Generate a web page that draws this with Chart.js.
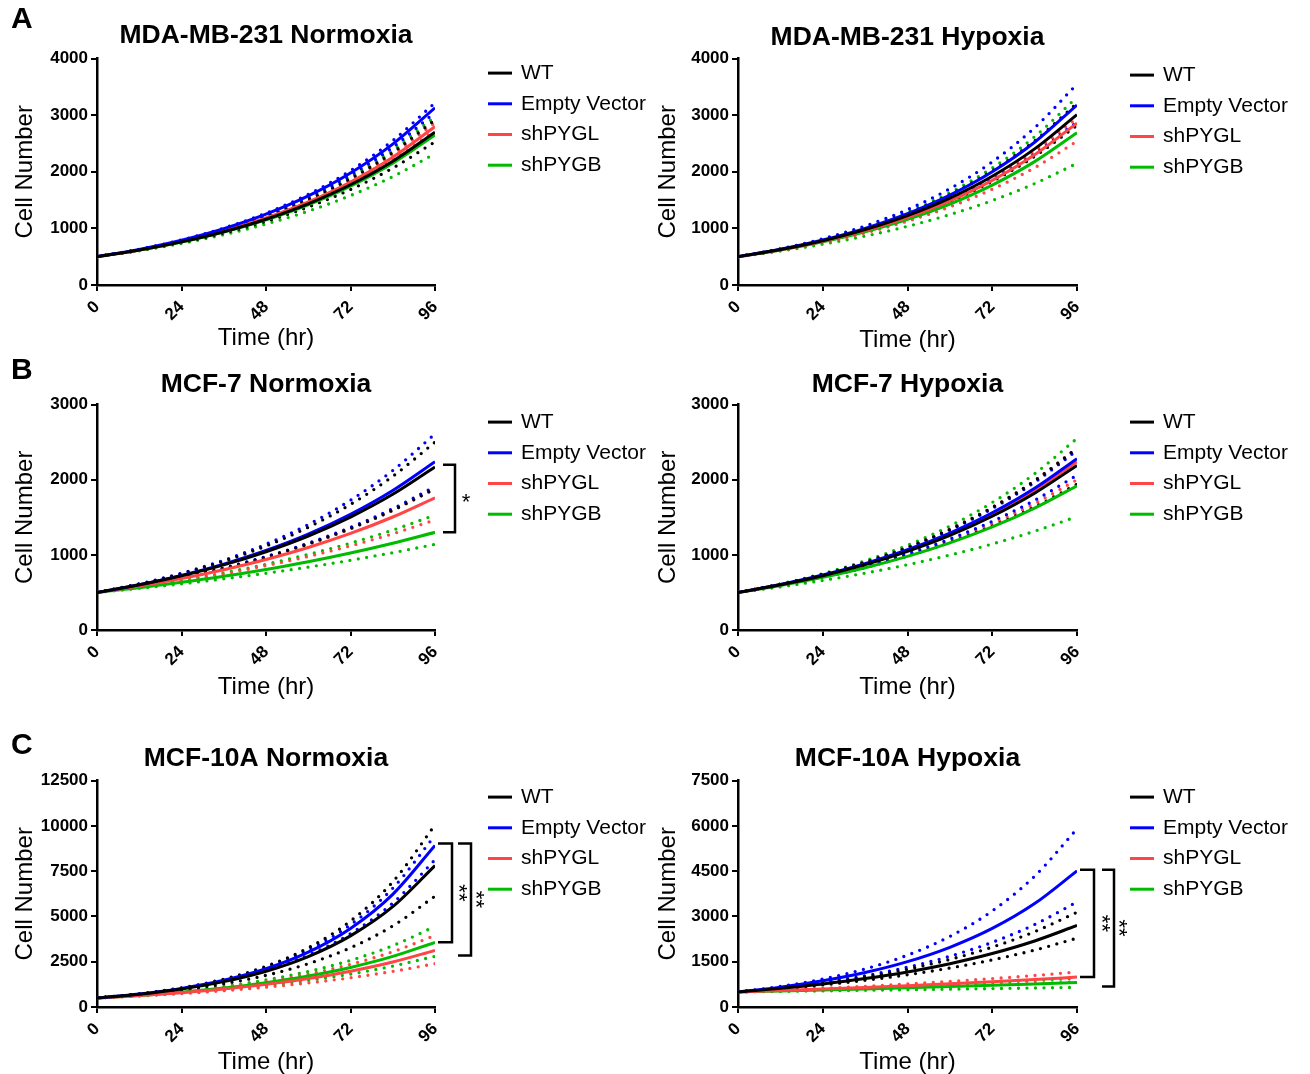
<!DOCTYPE html>
<html>
<head>
<meta charset="utf-8">
<title>Cell growth curves</title>
<script src="https://cdn.jsdelivr.net/npm/chart.js@4.4.0/dist/chart.umd.min.js"></script>
<style>
  html, body { margin: 0; padding: 0; background: #fff; overflow: hidden; }
  #page { position: relative; width: 1310px; height: 1074px; }
  canvas { position: absolute; }
</style>
</head>
<body>
<div id="page"></div>
<script>
const hours = [0, 12, 24, 36, 48, 60, 72, 84, 96];
const groups = ['WT', 'Empty Vector', 'shPYGL', 'shPYGB'];
const colors = ['#000000', '#0000ff', '#ff4545', '#00bb00'];

// MDA-MB-231 Normoxia (fit, upper, lower)
const mdaN_WT = [500, 617, 762, 941, 1162, 1435, 1771, 2187, 2700];
const mdaN_WT_hi = [500, 623, 777, 969, 1208, 1506, 1878, 2342, 2920];
const mdaN_WT_lo = [500, 612, 750, 919, 1125, 1378, 1687, 2066, 2530];
const mdaN_EV = [500, 629, 791, 995, 1251, 1573, 1979, 2489, 3130];
const mdaN_EV_hi = [500, 631, 797, 1006, 1269, 1601, 2021, 2551, 3220];
const mdaN_EV_lo = [500, 627, 786, 985, 1235, 1548, 1941, 2433, 3050];
const mdaN_PYGL = [500, 620, 769, 954, 1183, 1467, 1820, 2257, 2800];
const mdaN_PYGL_hi = [500, 622, 774, 963, 1198, 1490, 1854, 2307, 2870];
const mdaN_PYGL_lo = [500, 618, 764, 945, 1168, 1444, 1786, 2208, 2730];
const mdaN_PYGB = [500, 616, 759, 935, 1151, 1418, 1747, 2152, 2650];
const mdaN_PYGB_hi = [500, 625, 781, 977, 1221, 1526, 1907, 2384, 2980];
const mdaN_PYGB_lo = [500, 606, 734, 889, 1077, 1305, 1581, 1915, 2320];

// MDA-MB-231 Hypoxia
const mdaH_WT = [500, 626, 783, 980, 1227, 1536, 1922, 2405, 3010];
const mdaH_WT_hi = [500, 631, 796, 1004, 1267, 1599, 2017, 2545, 3210];
const mdaH_WT_lo = [500, 621, 771, 957, 1187, 1474, 1830, 2272, 2820];
const mdaH_EV = [500, 630, 794, 1001, 1261, 1589, 2002, 2523, 3180];
const mdaH_EV_hi = [500, 639, 816, 1043, 1332, 1702, 2175, 2779, 3550];
const mdaH_EV_lo = [500, 623, 775, 964, 1200, 1494, 1859, 2314, 2880];
const mdaH_PYGL = [500, 622, 773, 962, 1196, 1487, 1849, 2300, 2860];
const mdaH_PYGL_hi = [500, 624, 779, 973, 1215, 1517, 1893, 2363, 2950];
const mdaH_PYGL_lo = [500, 613, 751, 920, 1127, 1381, 1692, 2073, 2540];
const mdaH_PYGB = [500, 617, 762, 940, 1160, 1431, 1766, 2180, 2690];
const mdaH_PYGB_hi = [500, 634, 803, 1017, 1288, 1632, 2068, 2620, 3320];
const mdaH_PYGB_lo = [500, 600, 720, 864, 1037, 1244, 1493, 1792, 2150];

// MCF-7 Normoxia
const mcf7N_WT = [500, 601, 722, 867, 1042, 1251, 1503, 1806, 2170];
const mcf7N_WT_hi = [500, 612, 748, 914, 1118, 1367, 1672, 2045, 2500];
const mcf7N_WT_lo = [500, 590, 696, 822, 970, 1144, 1350, 1593, 1880];
const mcf7N_EV = [500, 603, 727, 877, 1058, 1276, 1540, 1857, 2240];
const mcf7N_EV_hi = [500, 615, 756, 929, 1142, 1404, 1727, 2123, 2610];
const mcf7N_EV_lo = [500, 591, 699, 826, 977, 1155, 1366, 1615, 1910];
const mcf7N_PYGL = [500, 585, 685, 802, 938, 1098, 1285, 1504, 1760];
const mcf7N_PYGL_hi = [500, 590, 696, 822, 970, 1144, 1350, 1593, 1880];
const mcf7N_PYGL_lo = [500, 572, 654, 748, 856, 979, 1120, 1281, 1465];
const mcf7N_PYGB = [500, 563, 635, 715, 806, 908, 1024, 1154, 1300];
const mcf7N_PYGB_hi = [500, 575, 661, 761, 875, 1006, 1157, 1330, 1530];
const mcf7N_PYGB_lo = [500, 554, 614, 681, 755, 837, 928, 1029, 1140];

// MCF-7 Hypoxia
const mcf7H_WT = [500, 601, 723, 870, 1046, 1258, 1514, 1821, 2190];
const mcf7H_WT_hi = [500, 609, 742, 903, 1100, 1340, 1632, 1987, 2420];
const mcf7H_WT_lo = [500, 592, 702, 832, 985, 1167, 1382, 1637, 1940];
const mcf7H_EV = [500, 605, 731, 884, 1068, 1291, 1560, 1886, 2280];
const mcf7H_EV_hi = [500, 608, 739, 899, 1093, 1329, 1616, 1965, 2390];
const mcf7H_EV_lo = [500, 597, 712, 850, 1015, 1211, 1446, 1726, 2060];
const mcf7H_PYGL = [500, 603, 727, 877, 1058, 1276, 1540, 1857, 2240];
const mcf7H_PYGL_hi = [500, 609, 742, 903, 1100, 1340, 1632, 1987, 2420];
const mcf7H_PYGL_lo = [500, 595, 707, 841, 1000, 1189, 1414, 1682, 2000];
const mcf7H_PYGB = [500, 592, 700, 828, 980, 1160, 1372, 1623, 1920];
const mcf7H_PYGB_hi = [500, 613, 751, 921, 1129, 1384, 1697, 2080, 2550];
const mcf7H_PYGB_lo = [500, 574, 659, 757, 869, 998, 1145, 1315, 1510];

// MCF-10A Normoxia
const mcf10N_WT = [500, 705, 994, 1402, 1976, 2786, 3929, 5539, 7810];
const mcf10N_WT_hi = [500, 728, 1059, 1541, 2242, 3262, 4747, 6907, 10050];
const mcf10N_WT_lo = [500, 684, 935, 1279, 1749, 2392, 3272, 4475, 6120];
const mcf10N_EV = [500, 717, 1028, 1474, 2112, 3028, 4340, 6222, 8920];
const mcf10N_EV_hi = [500, 722, 1043, 1507, 2176, 3143, 4540, 6557, 9470];
const mcf10N_EV_lo = [500, 709, 1004, 1423, 2016, 2857, 4049, 5737, 8130];
const mcf10N_PYGL = [500, 628, 790, 993, 1249, 1570, 1974, 2482, 3120];
const mcf10N_PYGL_hi = [500, 647, 838, 1085, 1405, 1819, 2356, 3051, 3950];
const mcf10N_PYGL_lo = [500, 608, 739, 899, 1093, 1329, 1616, 1965, 2390];
const mcf10N_PYGB = [500, 639, 817, 1045, 1336, 1708, 2184, 2792, 3570];
const mcf10N_PYGB_hi = [500, 657, 864, 1135, 1492, 1960, 2576, 3386, 4450];
const mcf10N_PYGB_lo = [500, 620, 769, 954, 1183, 1467, 1820, 2257, 2800];

// MCF-10A Hypoxia
const mcf10H_WT = [500, 617, 762, 941, 1162, 1435, 1771, 2187, 2700];
const mcf10H_WT_hi = [500, 629, 792, 996, 1253, 1577, 1984, 2496, 3140];
const mcf10H_WT_lo = [500, 605, 731, 884, 1068, 1291, 1560, 1886, 2280];
const mcf10H_EV = [500, 658, 867, 1141, 1502, 1977, 2602, 3426, 4510];
const mcf10H_EV_hi = [500, 681, 927, 1262, 1718, 2338, 3183, 4334, 5900];
const mcf10H_EV_lo = [500, 637, 812, 1035, 1319, 1681, 2143, 2731, 3480];
const mcf10H_PYGL = [500, 545, 593, 646, 704, 767, 835, 909, 990];
const mcf10H_PYGL_hi = [500, 555, 617, 686, 762, 846, 940, 1044, 1160];
const mcf10H_PYGL_lo = [500, 533, 568, 605, 644, 686, 731, 779, 830];
const mcf10H_PYGB = [500, 531, 564, 599, 636, 676, 718, 763, 810];
const mcf10H_PYGB_hi = [500, 542, 587, 636, 689, 747, 809, 877, 950];
const mcf10H_PYGB_lo = [500, 517, 534, 552, 570, 589, 609, 629, 650];

const FONT = '"Liberation Sans", Arial, Helvetica, sans-serif';
Chart.defaults.font.family = FONT;
Chart.defaults.color = '#000';

const panels = [
  { title: 'MDA-MB-231 Normoxia', letter: 'A', letterY: 20, legendTop: 14.5,
    left: 0, top: 0, width: 655, height: 357, yWidth: 97, padRight: 220,
    titlePad: { top: 19.4, bottom: 7.4 }, yTitlePad: 10.6, xTitlePad: 4.6,
    yMax: 4000, yStep: 1000,
    series: [[mdaN_WT, mdaN_WT_hi, mdaN_WT_lo], [mdaN_EV, mdaN_EV_hi, mdaN_EV_lo],
             [mdaN_PYGL, mdaN_PYGL_hi, mdaN_PYGL_lo], [mdaN_PYGB, mdaN_PYGB_hi, mdaN_PYGB_lo]],
    brackets: [] },
  { title: 'MDA-MB-231 Hypoxia', legendTop: 16.5,
    left: 645, top: 0, width: 665, height: 357, yWidth: 93, padRight: 233,
    titlePad: { top: 21.4, bottom: 5.4 }, yTitlePad: 8.6, xTitlePad: 2.6,
    yMax: 4000, yStep: 1000,
    series: [[mdaH_WT, mdaH_WT_hi, mdaH_WT_lo], [mdaH_EV, mdaH_EV_hi, mdaH_EV_lo],
             [mdaH_PYGL, mdaH_PYGL_hi, mdaH_PYGL_lo], [mdaH_PYGB, mdaH_PYGB_hi, mdaH_PYGB_lo]],
    brackets: [] },
  { title: 'MCF-7 Normoxia', letter: 'B', letterY: 16, legendTop: 17.5,
    left: 0, top: 355, width: 655, height: 347, yWidth: 97, padRight: 220,
    titlePad: { top: 13.4, bottom: 4.4 }, yTitlePad: 10.6, xTitlePad: 0,
    yMax: 3000, yStep: 1000,
    series: [[mcf7N_WT, mcf7N_WT_hi, mcf7N_WT_lo], [mcf7N_EV, mcf7N_EV_hi, mcf7N_EV_lo],
             [mcf7N_PYGL, mcf7N_PYGL_hi, mcf7N_PYGL_lo], [mcf7N_PYGB, mcf7N_PYGB_hi, mcf7N_PYGB_lo]],
    brackets: [{ from: 2200, to: 1300, x0: 8, x1: 20, sx: 31, label: '*' }] },
  { title: 'MCF-7 Hypoxia', legendTop: 17.5,
    left: 645, top: 355, width: 665, height: 347, yWidth: 93, padRight: 233,
    titlePad: { top: 13.4, bottom: 4.4 }, yTitlePad: 8.6, xTitlePad: 0,
    yMax: 3000, yStep: 1000,
    series: [[mcf7H_WT, mcf7H_WT_hi, mcf7H_WT_lo], [mcf7H_EV, mcf7H_EV_hi, mcf7H_EV_lo],
             [mcf7H_PYGL, mcf7H_PYGL_hi, mcf7H_PYGL_lo], [mcf7H_PYGB, mcf7H_PYGB_hi, mcf7H_PYGB_lo]],
    brackets: [] },
  { title: 'MCF-10A Normoxia', letter: 'C', letterY: 16, legendTop: 16.5,
    left: 0, top: 730, width: 655, height: 349, yWidth: 97, padRight: 220,
    titlePad: { top: 12.4, bottom: 6.4 }, yTitlePad: 10.6, xTitlePad: 2.6,
    yMax: 12500, yStep: 2500,
    series: [[mcf10N_WT, mcf10N_WT_hi, mcf10N_WT_lo], [mcf10N_EV, mcf10N_EV_hi, mcf10N_EV_lo],
             [mcf10N_PYGL, mcf10N_PYGL_hi, mcf10N_PYGL_lo], [mcf10N_PYGB, mcf10N_PYGB_hi, mcf10N_PYGB_lo]],
    brackets: [{ from: 9030, to: 3570, x0: 3, x1: 17, sx: 27, label: '**' },
               { from: 9030, to: 2850, x0: 23, x1: 36, sx: 44, label: '**' }] },
  { title: 'MCF-10A Hypoxia', legendTop: 16.5,
    left: 645, top: 730, width: 665, height: 349, yWidth: 93, padRight: 233,
    titlePad: { top: 12.4, bottom: 6.4 }, yTitlePad: 8.6, xTitlePad: 2.6,
    yMax: 7500, yStep: 1500,
    series: [[mcf10H_WT, mcf10H_WT_hi, mcf10H_WT_lo], [mcf10H_EV, mcf10H_EV_hi, mcf10H_EV_lo],
             [mcf10H_PYGL, mcf10H_PYGL_hi, mcf10H_PYGL_lo], [mcf10H_PYGB, mcf10H_PYGB_hi, mcf10H_PYGB_lo]],
    brackets: [{ from: 4550, to: 990, x0: 3, x1: 17, sx: 28, label: '**' },
               { from: 4550, to: 680, x0: 25, x1: 37, sx: 45, label: '**' }] }
];

function toPoints(vals) {
  return hours.map((h, i) => ({ x: h, y: vals[i] }));
}

function buildDatasets(series) {
  const sets = [];
  series.forEach((trio, g) => {
    // solid fit line
    sets.push({
      label: groups[g], data: toPoints(trio[0]), borderColor: colors[g],
      borderWidth: 3, pointRadius: 0, cubicInterpolationMode: 'monotone', order: g
    });
    // dotted confidence bands
    [trio[1], trio[2]].forEach(band => {
      sets.push({
        label: groups[g] + ' CI', data: toPoints(band), borderColor: colors[g],
        borderWidth: 3.3, borderDash: [0, 8.5], borderCapStyle: 'round',
        pointRadius: 0, cubicInterpolationMode: 'monotone', order: 10 + g
      });
    });
  });
  return sets;
}

// legend, significance brackets and panel letter
function sideLayer(p) {
  return {
    id: 'sideLayer',
    afterDraw(chart) {
      const ctx = chart.ctx;
      const area = chart.chartArea;
      const yScale = chart.scales.y;
      ctx.save();
      ctx.textBaseline = 'middle';
      ctx.textAlign = 'left';
      ctx.font = '21px ' + FONT;
      groups.forEach((g, i) => {
        const ly = area.top + p.legendTop + i * 30.7;
        ctx.strokeStyle = colors[i];
        ctx.lineWidth = 3;
        ctx.beginPath();
        ctx.moveTo(area.right + 53, ly);
        ctx.lineTo(area.right + 77, ly);
        ctx.stroke();
        ctx.fillStyle = '#000';
        ctx.fillText(g, area.right + 86, ly);
      });

      p.brackets.forEach(b => {
        const y1 = yScale.getPixelForValue(b.from);
        const y2 = yScale.getPixelForValue(b.to);
        ctx.strokeStyle = '#000';
        ctx.lineWidth = 2.5;
        ctx.beginPath();
        ctx.moveTo(area.right + b.x0, y1);
        ctx.lineTo(area.right + b.x1, y1);
        ctx.lineTo(area.right + b.x1, y2);
        ctx.lineTo(area.right + b.x0, y2);
        ctx.stroke();
        ctx.save();
        ctx.translate(area.right + b.sx, (y1 + y2) / 2);
        if (b.label.length > 1) ctx.rotate(Math.PI / 2);
        ctx.font = '22px ' + FONT;
        ctx.textAlign = 'center';
        ctx.fillStyle = '#000';
        ctx.fillText(b.label, 0, 4);
        ctx.restore();
      });

      if (p.letter) {
        ctx.font = 'bold 30px ' + FONT;
        ctx.fillStyle = '#000';
        ctx.fillText(p.letter, 11, p.letterY);
      }
      ctx.restore();
    }
  };
}

const page = document.getElementById('page');

panels.forEach(p => {
  const canvas = document.createElement('canvas');
  canvas.width = p.width;
  canvas.height = p.height;
  canvas.style.left = p.left + 'px';
  canvas.style.top = p.top + 'px';
  page.appendChild(canvas);

  new Chart(canvas.getContext('2d'), {
    type: 'line',
    data: { datasets: buildDatasets(p.series) },
    options: {
      responsive: false,
      animation: false,
      devicePixelRatio: 1,
      layout: { padding: { left: 0, right: p.padRight, top: 0, bottom: 0 } },
      scales: {
        x: {
          type: 'linear', min: 0, max: 96,
          afterFit: s => { s.height = 72; },
          border: { color: '#000', width: 2.5 },
          grid: { drawOnChartArea: false, drawTicks: true, tickLength: 6, color: '#000', lineWidth: 2 },
          ticks: { stepSize: 24, minRotation: 45, maxRotation: 45, autoSkip: false, padding: 6,
                   font: { size: 17, weight: 'bold' }, color: '#000' },
          title: { display: true, text: 'Time (hr)', font: { size: 24 }, color: '#000',
                   padding: { top: 0, bottom: p.xTitlePad } }
        },
        y: {
          min: 0, max: p.yMax,
          afterFit: s => { s.width = p.yWidth; },
          border: { color: '#000', width: 2.5 },
          grid: { drawOnChartArea: false, drawTicks: true, tickLength: 6, color: '#000', lineWidth: 2 },
          ticks: { stepSize: p.yStep, padding: 3, font: { size: 17, weight: 'bold' }, color: '#000',
                   callback: v => String(v) },
          title: { display: true, text: 'Cell Number', font: { size: 24 }, color: '#000',
                   padding: { top: p.yTitlePad, bottom: 0 } }
        }
      },
      plugins: {
        legend: { display: false },
        tooltip: { enabled: false },
        title: { display: true, text: p.title, fullSize: false, color: '#000',
                 font: { size: 26.5, weight: 'bold' }, padding: p.titlePad }
      }
    },
    plugins: [sideLayer(p)]
  });
});
</script>
</body>
</html>
